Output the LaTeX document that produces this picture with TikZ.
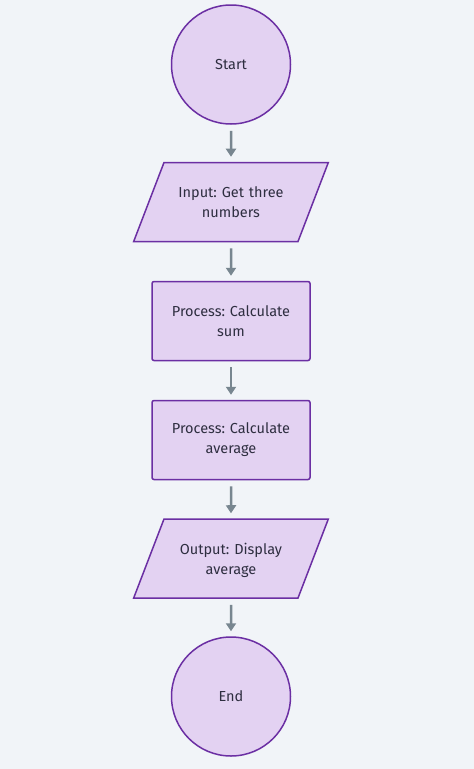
\documentclass[tikz,border=0pt]{standalone}
\usepackage{fontspec}
\setmainfont{Fira Sans}
\usetikzlibrary{shapes.geometric,arrows.meta}
\definecolor{bgcol}{HTML}{F1F4F8}
\definecolor{boxfill}{HTML}{E3D2F2}
\definecolor{boxline}{HTML}{6B2FA3}
\definecolor{txtcol}{HTML}{2E2E40}
\definecolor{arrcol}{HTML}{788690}
\frenchspacing

\begin{document}
\begin{tikzpicture}[x=1pt,y=-1pt,>={Triangle[width=10pt,length=8pt]},
	base/.style={draw=boxline, fill=boxfill, line width=1.5pt, text=txtcol, font=\fontsize{14.5}{20}\selectfont, align=center, inner sep=0pt},
	term/.style={base, circle, minimum size=119pt},
	proc/.style={base, rectangle, rounded corners=2pt, minimum width=158pt, minimum height=79pt, text width=150pt},
	io/.style={base, trapezium, trapezium left angle=69, trapezium right angle=111, inner xsep=0pt, inner ysep=22pt, text height=13pt, text depth=22pt, text width=134pt},
	flow/.style={->, draw=arrcol, line width=2.5pt, shorten <=6pt, shorten >=5pt}]

				\fill[bgcol] (0,0) rectangle (474,769);
				\useasboundingbox (0,0) rectangle (474,769);

				% NODES

				\node[term] (start) at (231,64.5) {Start};
				\node[io] (input) at (231,202) {Input: Get three\\numbers};
				\node[proc] (sum) at (231,321) {Process: Calculate\\sum};
				\node[proc] (avg) at (231,440) {Process: Calculate\\average};
				\node[io] (output) at (231,558.5) {Output: Display\\average};
				\node[term] (end) at (231,696.5) {End};

				% ARROWS

				\draw[flow] (start) to (input);
				\draw[flow] (input) to (sum);
				\draw[flow] (sum) to (avg);
				\draw[flow] (avg) to (output);
				\draw[flow] (output) to (end);
			\end{tikzpicture}
\end{document}
